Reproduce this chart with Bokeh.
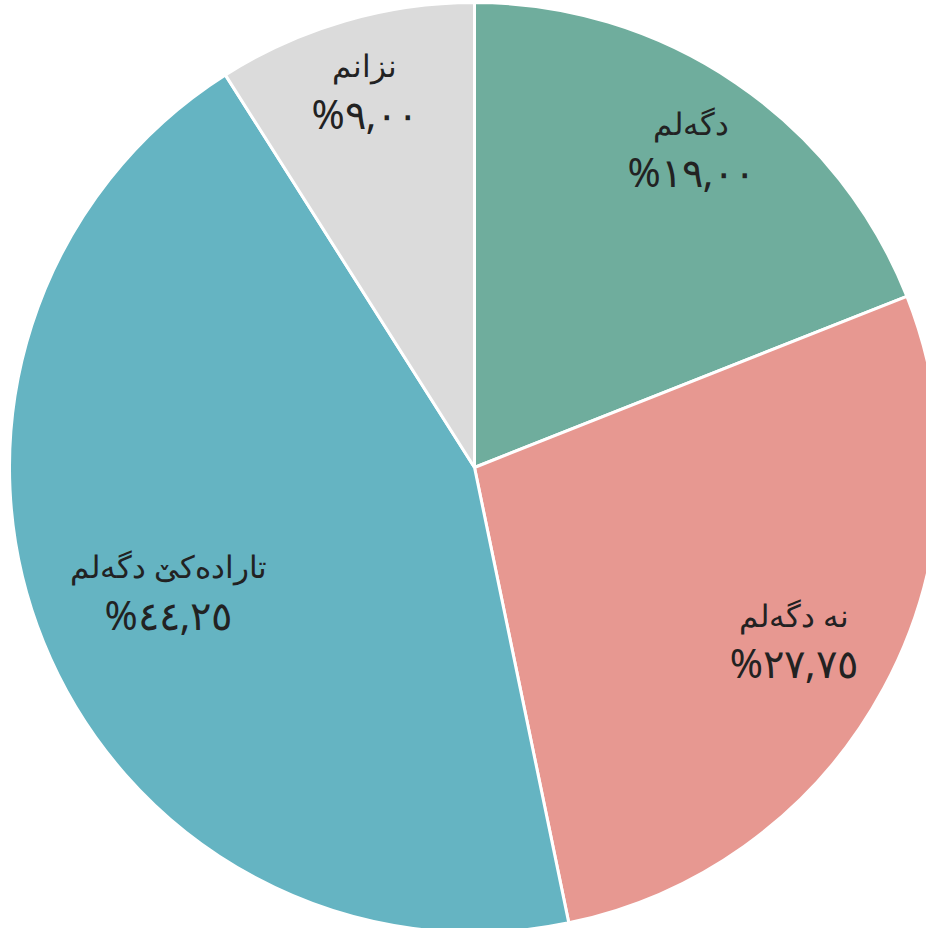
import math
from bokeh.plotting import figure
from bokeh.models import ColumnDataSource
from bokeh.core.properties import value
from bokeh.embed import file_html
from bokeh.resources import INLINE

# ---- data ----
categories = ["دگەلم", "نە دگەلم", "تارادەکێ دگەلم", "نزانم"]
shares = [19.00, 27.75, 44.25, 9.00]
pct_labels = ["%١٩,٠٠", "%٢٧,٧٥", "%٤٤,٢٥", "%٩,٠٠"]
colors = ["#6FAD9D", "#E79891", "#65B4C2", "#DBDBDB"]
label_r = [0.83, 0.78, 0.71, 0.845]

W, H = 926, 928
cx, cy = 474, H - 467
R = 465

total = sum(shares)
starts, ends, lx, ly = [], [], [], []
acc = 0.0
for s, lr in zip(shares, label_r):
    a0 = math.pi / 2 - 2 * math.pi * acc / total
    a1 = math.pi / 2 - 2 * math.pi * (acc + s) / total
    starts.append(a1)
    ends.append(a0)
    mid = (a0 + a1) / 2
    lx.append(cx + lr * R * math.cos(mid))
    ly.append(cy + lr * R * math.sin(mid))
    acc += s

src = ColumnDataSource(dict(start=starts, end=ends, color=colors,
                            cat=categories, pct=pct_labels, lx=lx, ly=ly))

p = figure(width=W, height=H, x_range=(0, W), y_range=(0, H),
           output_backend="svg", toolbar_location=None,
           min_border=0, outline_line_color=None)
p.axis.visible = False
p.grid.visible = False
p.background_fill_color = "white"
p.border_fill_color = "white"

p.wedge(x=cx, y=cy, radius=R, start_angle="start", end_angle="end",
        fill_color="color", line_color="white", line_width=3, source=src)

p.text(x="lx", y="ly", text="cat", source=src, text_font=value("Noto Sans"),
       text_font_size="31px", text_color="#222222", text_align="center",
       text_baseline="middle", y_offset=-25)
p.text(x="lx", y="ly", text="pct", source=src, text_font=value("Noto Sans"),
       text_font_size="40px", text_color="#222222", text_align="center",
       text_baseline="middle", y_offset=23)

open("out.html", "w").write(file_html(p, INLINE))
